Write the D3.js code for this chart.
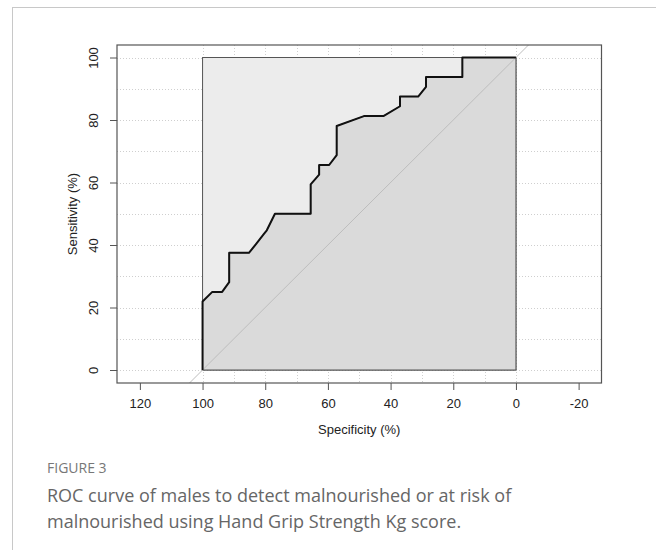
<!DOCTYPE html>
<html>
<head>
<meta charset="UTF-8" />
<title>ROC curve</title>
<script src="https://d3js.org/d3.v7.min.js"></script>
<style>
  body { margin: 0; background: #fff; }
  svg { display: block; }
  .ax text, .lab { font-family: "Liberation Sans", Arial, sans-serif; font-size: 13px; fill: #222; }
  .cap { font-family: "Open Sans", sans-serif; }
</style>
</head>
<body>
<svg id="chart" width="656" height="550"></svg>
<script>
// ROC curve points (specificity %, sensitivity %)
var specificity = [100, 100, 96.9, 93.75, 91.5, 91.5, 85.2, 82.7, 80.6, 79.5, 76.9, 65.5, 65.5, 62.8, 62.8, 59.6, 57.2, 57.2, 48.5, 42.3, 37.0, 37.0, 31.2, 28.7, 28.7, 17.1, 17.1, 0]
var sensitivity = [0, 21.9, 25, 25, 28.1, 37.5, 37.5, 40.6, 43.3, 44.7, 50, 50, 59.4, 62.5, 65.6, 65.6, 68.75, 78.1, 81.25, 81.25, 84.4, 87.5, 87.5, 90.6, 93.75, 93.75, 100, 100]

var xTicks = [120, 100, 80, 60, 40, 20, 0, -20]
var yTicks = [0, 20, 40, 60, 80, 100]
var gridVals = d3.range(0, 101, 10)

var captionHead = "FIGURE 3"
var captionLines = ["ROC curve of males to detect malnourished or at risk of",
                    "malnourished using Hand Grip Strength Kg score."]

var svg = d3.select("#chart")

// card border
svg.append("rect")
  .attr("x", 12.5).attr("y", 7.5)
  .attr("width", 700).attr("height", 600)
  .attr("fill", "none").attr("stroke", "#c8c8c8").attr("stroke-width", 1)

var box = {left: 117, right: 601.5, top: 45, bottom: 383}

var x = d3.scaleLinear().domain([127.3, -27.3]).range([box.left, box.right])
var y = d3.scaleLinear().domain([-4.16, 104]).range([box.bottom, box.top])

svg.append("clipPath").attr("id", "clip")
  .append("rect")
  .attr("x", box.left).attr("y", box.top)
  .attr("width", box.right - box.left).attr("height", box.bottom - box.top)

var plot = svg.append("g").attr("clip-path", "url(#clip)")

// grid
plot.selectAll("line.hgrid").data(gridVals).enter().append("line")
  .attr("class", "hgrid")
  .attr("x1", box.left).attr("x2", box.right)
  .attr("y1", d => Math.round(y(d)) + 0.5).attr("y2", d => Math.round(y(d)) + 0.5)
  .attr("stroke", "#cfcfcf").attr("stroke-dasharray", "1,2")
plot.selectAll("line.vgrid").data(gridVals).enter().append("line")
  .attr("class", "vgrid")
  .attr("y1", box.top).attr("y2", box.bottom)
  .attr("x1", d => Math.round(x(d)) + 0.5).attr("x2", d => Math.round(x(d)) + 0.5)
  .attr("stroke", "#cfcfcf").attr("stroke-dasharray", "1,2")

// max polygon
plot.append("rect")
  .attr("x", x(100)).attr("y", y(100))
  .attr("width", x(0) - x(100)).attr("height", y(0) - y(100))
  .attr("fill", "#ececec").attr("stroke", "#555").attr("stroke-width", 1)

// auc polygon
var pts = specificity.map((s, i) => [s, sensitivity[i]])
var area = pts.concat([[0, 0]])
plot.append("path")
  .attr("d", d3.line().x(d => x(d[0])).y(d => y(d[1]))(area) + "Z")
  .attr("fill", "#dadada").attr("stroke", "#555").attr("stroke-width", 1)

// diagonal
plot.append("line")
  .attr("x1", x(110)).attr("y1", y(-10))
  .attr("x2", x(-10)).attr("y2", y(110))
  .attr("stroke", "#bdbdbd").attr("stroke-width", 1)

// roc curve
plot.append("path")
  .attr("d", d3.line().x(d => x(d[0])).y(d => y(d[1]))(pts))
  .attr("fill", "none").attr("stroke", "#111").attr("stroke-width", 2)
  .attr("stroke-linejoin", "round")

// plot frame
svg.append("rect")
  .attr("x", box.left).attr("y", box.top)
  .attr("width", box.right - box.left).attr("height", box.bottom - box.top)
  .attr("fill", "none").attr("stroke", "#555").attr("stroke-width", 1.2)

// axes
var xAxis = d3.axisBottom(x).tickValues(xTicks).tickFormat(d => String(d)).tickSize(7).tickPadding(9)
var gx = svg.append("g").attr("class", "ax").attr("transform", "translate(0," + box.bottom + ")").call(xAxis)
gx.attr("font-family", null).attr("font-size", null)
gx.select(".domain").remove()
gx.selectAll("line").attr("stroke", "#555")

var yAxis = d3.axisLeft(y).tickValues(yTicks).tickFormat(d => String(d)).tickSize(7)
var gy = svg.append("g").attr("class", "ax").attr("transform", "translate(" + box.left + ",0)").call(yAxis)
gy.attr("font-family", null).attr("font-size", null)
gy.select(".domain").remove()
gy.selectAll("line").attr("stroke", "#555")
gy.selectAll("text")
  .attr("x", 0).attr("y", 0).attr("dy", "0.35em")
  .attr("text-anchor", "middle")
  .attr("transform", "translate(-24,0) rotate(-90)")

svg.append("text").attr("class", "lab")
  .attr("x", (box.left + box.right) / 2).attr("y", 434)
  .attr("text-anchor", "middle")
  .text("Specificity (%)")

svg.append("text").attr("class", "lab")
  .attr("transform", "translate(77," + (box.top + box.bottom) / 2 + ") rotate(-90)")
  .attr("text-anchor", "middle")
  .text("Sensitivity (%)")

// caption
svg.append("text").attr("class", "cap")
  .attr("x", 47).attr("y", 473)
  .attr("fill", "#777").style("font-size", "14px")
  .text(captionHead)

svg.selectAll("text.capline").data(captionLines).enter().append("text")
  .attr("class", "cap capline")
  .attr("x", 47).attr("y", (d, i) => 502 + i * 26)
  .attr("fill", "#666").style("font-size", "18px")
  .text(d => d)
</script>
</body>
</html>
